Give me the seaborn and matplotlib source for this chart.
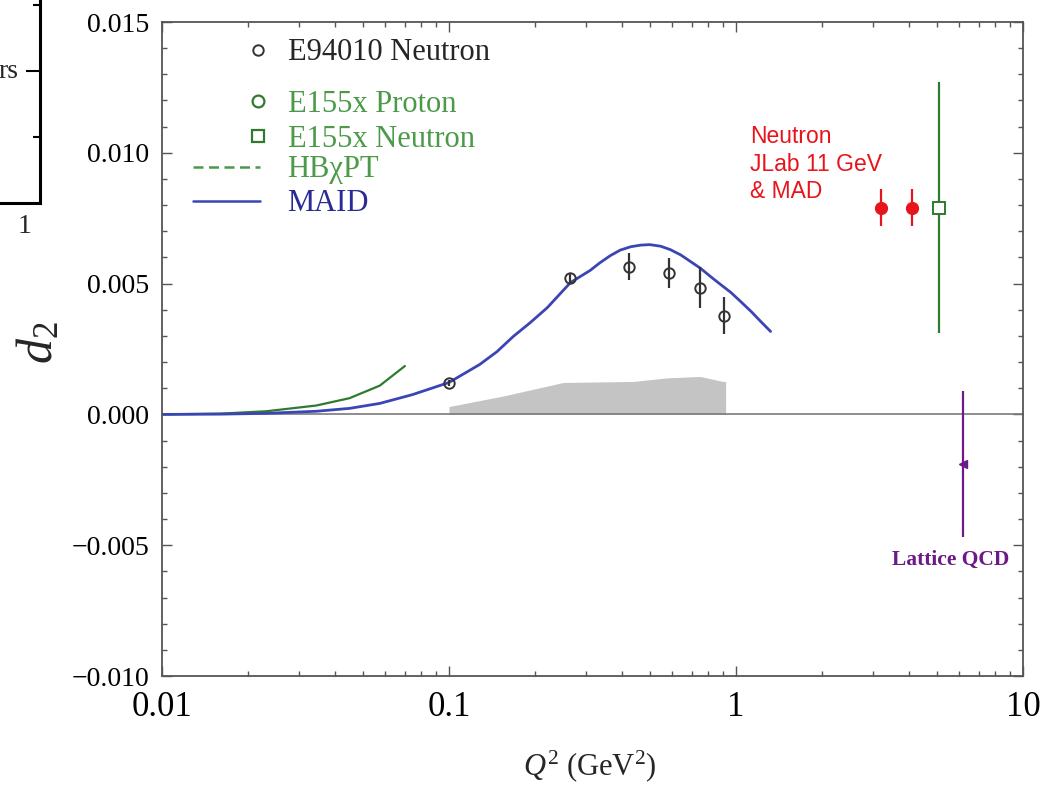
import numpy as np
import pandas as pd
import matplotlib
matplotlib.use("Agg")
import matplotlib.pyplot as plt
import seaborn as sns
from matplotlib.lines import Line2D
from matplotlib.ticker import FixedLocator, FuncFormatter, LogLocator, NullFormatter, MultipleLocator

# ---- data -------------------------------------------------------------
# E94010 neutron d2
e94_q2 = [0.10, 0.265, 0.423, 0.582, 0.747, 0.906]
e94_d2 = [0.00120, 0.00520, 0.00565, 0.00542, 0.00485, 0.00378]
e94_err = [0.00010, 0.00020, 0.00052, 0.00057, 0.00078, 0.00070]

# systematic band of E94010
band_q2 = [0.10, 0.154, 0.25, 0.44, 0.58, 0.75, 0.90, 0.92]
band_top = [0.00030, 0.00070, 0.00122, 0.00126, 0.00140, 0.00145, 0.00126, 0.00126]

# MAID model
maid_q2 = [0.010, 0.016, 0.023, 0.0345, 0.045, 0.0574, 0.0748, 0.10, 0.128, 0.147,
           0.1675, 0.192, 0.22, 0.265, 0.31, 0.336, 0.365, 0.395, 0.43, 0.465,
           0.50, 0.546, 0.59, 0.641, 0.695, 0.753, 0.815, 0.885, 0.96, 1.039,
           1.13, 1.22, 1.32]
maid_d2 = [0.0, 0.00001, 0.00004, 0.00012, 0.00023, 0.00042, 0.00076, 0.00122, 0.00191,
           0.00240, 0.00298, 0.00351, 0.00408, 0.00504, 0.00550, 0.00580, 0.00607,
           0.00628, 0.00641, 0.00647, 0.00649, 0.00643, 0.00630, 0.00610, 0.00584,
           0.00558, 0.00527, 0.00496, 0.00466, 0.00431, 0.00393, 0.00355, 0.00317]

# heavy-baryon chiral perturbation theory
hb_q2 = [0.010, 0.016, 0.0231, 0.0345, 0.045, 0.0574, 0.0702]
hb_d2 = [0.0, 0.00003, 0.00012, 0.00034, 0.00062, 0.00110, 0.00185]

# projected JLab 11 GeV & MAD neutron points
jlab_q2 = [3.2, 4.1]
jlab_d2 = [0.0079, 0.0079]
jlab_err = [0.0007, 0.0007]

# E155x neutron
e155n_q2 = [5.1]
e155n_d2 = [0.0079]
e155n_err = [0.0048]

# lattice QCD
lat_q2 = [6.2]
lat_d2 = [-0.0019]
lat_err = [0.0028]

y_ticks = [-0.010, -0.005, 0.0, 0.005, 0.010, 0.015]
x_ticks = [0.01, 0.1, 1, 10]
x_labels = ["0.01", "0.1", "1", "10"]

# ---- style ------------------------------------------------------------
sns.set_theme(style="ticks")
plt.rcParams["font.family"] = ["Liberation Serif", "DejaVu Serif"]
plt.rcParams["mathtext.fontset"] = "custom"
plt.rcParams["mathtext.rm"] = "Liberation Serif"
plt.rcParams["mathtext.it"] = "Liberation Serif:italic"

GREEN = "#2f7a2f"
GREEN_TXT = "#4a9a4a"
BLUE = "#3b45b5"
BLUE_TXT = "#2a2a95"
RED = "#e8141c"
PURPLE = "#6b1a86"
FRAME = "#555555"

fig = plt.figure(figsize=(10.55, 7.88), dpi=100)
ax = fig.add_axes([162 / 1055, 1 - 676 / 788, 861 / 1055, 654 / 788])

# systematic band
ax.fill_between(band_q2, 0, band_top, color="#c4c4c4", lw=0, zorder=1)
ax.axhline(0, color="#7a7a7a", lw=1.2, zorder=1.5)

# model curves
sns.lineplot(data=pd.DataFrame({"q2": hb_q2, "d2": hb_d2}), x="q2", y="d2",
             ax=ax, color=GREEN, lw=1.6, zorder=2)
sns.lineplot(data=pd.DataFrame({"q2": maid_q2, "d2": maid_d2}), x="q2", y="d2",
             ax=ax, color=BLUE, lw=2.0, zorder=2)

# measurements
ax.errorbar(e94_q2, e94_d2, yerr=e94_err, fmt="o", ms=7.5, mfc="none", mec="#333333",
            mew=1.4, ecolor="#333333", elinewidth=1.6, capsize=0, zorder=4)
ax.errorbar(jlab_q2, jlab_d2, yerr=jlab_err, fmt="o", ms=8.5, color=RED,
            elinewidth=1.6, capsize=0, zorder=4)
ax.errorbar(e155n_q2, e155n_d2, yerr=e155n_err, fmt="s", ms=8.5, mfc="white",
            mec=GREEN, mew=1.4, ecolor=GREEN, elinewidth=1.6, capsize=0, zorder=4)
ax.errorbar(lat_q2, lat_d2, yerr=lat_err, fmt="<", ms=6, color=PURPLE,
            elinewidth=1.6, capsize=0, zorder=4)

# axes
ax.set_xscale("log")
ax.set_xlim(0.01, 10)
ax.set_ylim(-0.010, 0.015)
ax.xaxis.set_major_locator(FixedLocator(x_ticks))
ax.xaxis.set_major_formatter(FuncFormatter(lambda v, p: x_labels[x_ticks.index(v)] if v in x_ticks else ""))
ax.xaxis.set_minor_locator(LogLocator(base=10, subs=np.arange(2, 10)))
ax.xaxis.set_minor_formatter(NullFormatter())
ax.yaxis.set_major_locator(FixedLocator(y_ticks))
ax.yaxis.set_major_formatter(FuncFormatter(lambda v, p: f"{v:.3f}".replace("-", "\u2212") if abs(v) > 1e-9 else "0.000"))
ax.yaxis.set_minor_locator(MultipleLocator(0.001))
ax.tick_params(which="both", direction="in", top=True, right=True, colors=FRAME,
               labelcolor="black")
ax.tick_params(which="major", length=7, width=1.0)
ax.tick_params(which="minor", length=3.5, width=1.0)
ax.tick_params(axis="y", labelsize=20, pad=9)
ax.tick_params(axis="x", labelsize=25, pad=11)
for s in ax.spines.values():
    s.set_color(FRAME)
    s.set_linewidth(1.3)
ax.set_xlabel("")
ax.set_ylabel("")

# axis titles
fig.text(590 / 1055, 1 - 766 / 788, r"$Q^2$ (GeV$^2$)", fontsize=22,
         ha="center", va="center")
fig.text(40 / 1055, 1 - 343 / 788, r"$d_2$", fontsize=36, rotation=90,
         ha="center", va="center")

# legends
fs = 22
h1 = [Line2D([], [], ls="none", marker="o", ms=7.5, mfc="none", mec="#333333", mew=1.4)]
leg1 = ax.legend(h1, ["E94010 Neutron"], loc="center left", bbox_to_anchor=(0.083, 0.953),
                 frameon=False, fontsize=fs, handlelength=1.6, handletextpad=0.17,
                 borderpad=0, borderaxespad=0)
ax.add_artist(leg1)

h2 = [Line2D([], [], ls="none", marker="o", ms=8.5, mfc="none", mec=GREEN, mew=1.6),
      Line2D([], [], ls="none", marker="s", ms=8.5, mfc="none", mec=GREEN, mew=1.6)]
leg2 = ax.legend(h2, ["E155x Proton", "E155x Neutron"], loc="upper left",
                 bbox_to_anchor=(0.083, 0.896), frameon=False, fontsize=fs,
                 handlelength=1.6, handletextpad=0.17, borderpad=0, borderaxespad=0,
                 labelspacing=0.18)
for t in leg2.get_texts():
    t.set_color(GREEN_TXT)
ax.add_artist(leg2)

h3 = [Line2D([], [], color=GREEN_TXT, lw=1.8, ls=(0, (4, 2.2))),
      Line2D([], [], color=BLUE, lw=1.8)]
leg3 = ax.legend(h3, ["HB\u03c7PT", "MAID"], loc="upper left",
                 bbox_to_anchor=(0.036, 0.796), frameon=False, fontsize=fs,
                 handlelength=2.2, handletextpad=0.88, borderpad=0, borderaxespad=0,
                 labelspacing=0.16)
leg3.get_texts()[0].set_color(GREEN_TXT)
leg3.get_texts()[1].set_color(BLUE_TXT)

# annotations
ax.text(0.683, 0.842, "Neutron\nJLab 11 GeV\n& MAD", transform=ax.transAxes,
        ha="left", va="top", color=RED, fontsize=16.5, family="Liberation Sans",
        linespacing=1.25)
ax.text(0.916, 0.177, "Lattice QCD", transform=ax.transAxes, ha="center", va="center",
        color=PURPLE, fontsize=15.5, fontweight="bold")

# edge of the neighbouring panel
ax0 = fig.add_axes([-0.2, 1 - 203 / 788, 0.2 + 40 / 1055, 0.5])
ax0.set_xlim(0, 1)
ax0.set_ylim(0, 394 / 66)
for side in ("left", "top"):
    ax0.spines[side].set_visible(False)
for side in ("right", "bottom"):
    ax0.spines[side].set_color("black")
    ax0.spines[side].set_linewidth(2.2)
ax0.yaxis.tick_right()
ax0.set_yticks([2])
ax0.set_yticks([1, 3], minor=True)
ax0.tick_params(axis="y", which="major", direction="in", length=10, width=1.5,
                labelright=False, color="black")
ax0.tick_params(axis="y", which="minor", direction="in", length=5, width=1.5, color="black")
ax0.set_xticks([1 - 14 / 222.6])
ax0.set_xticklabels(["1"])
ax0.tick_params(axis="x", length=0, labelsize=20, pad=8)
ax0.text(1 - 19 / 222.6, 2, "rs", ha="right", va="center", fontsize=20)
ax0.set_facecolor("none")

fig.savefig("out.png", dpi=100)
